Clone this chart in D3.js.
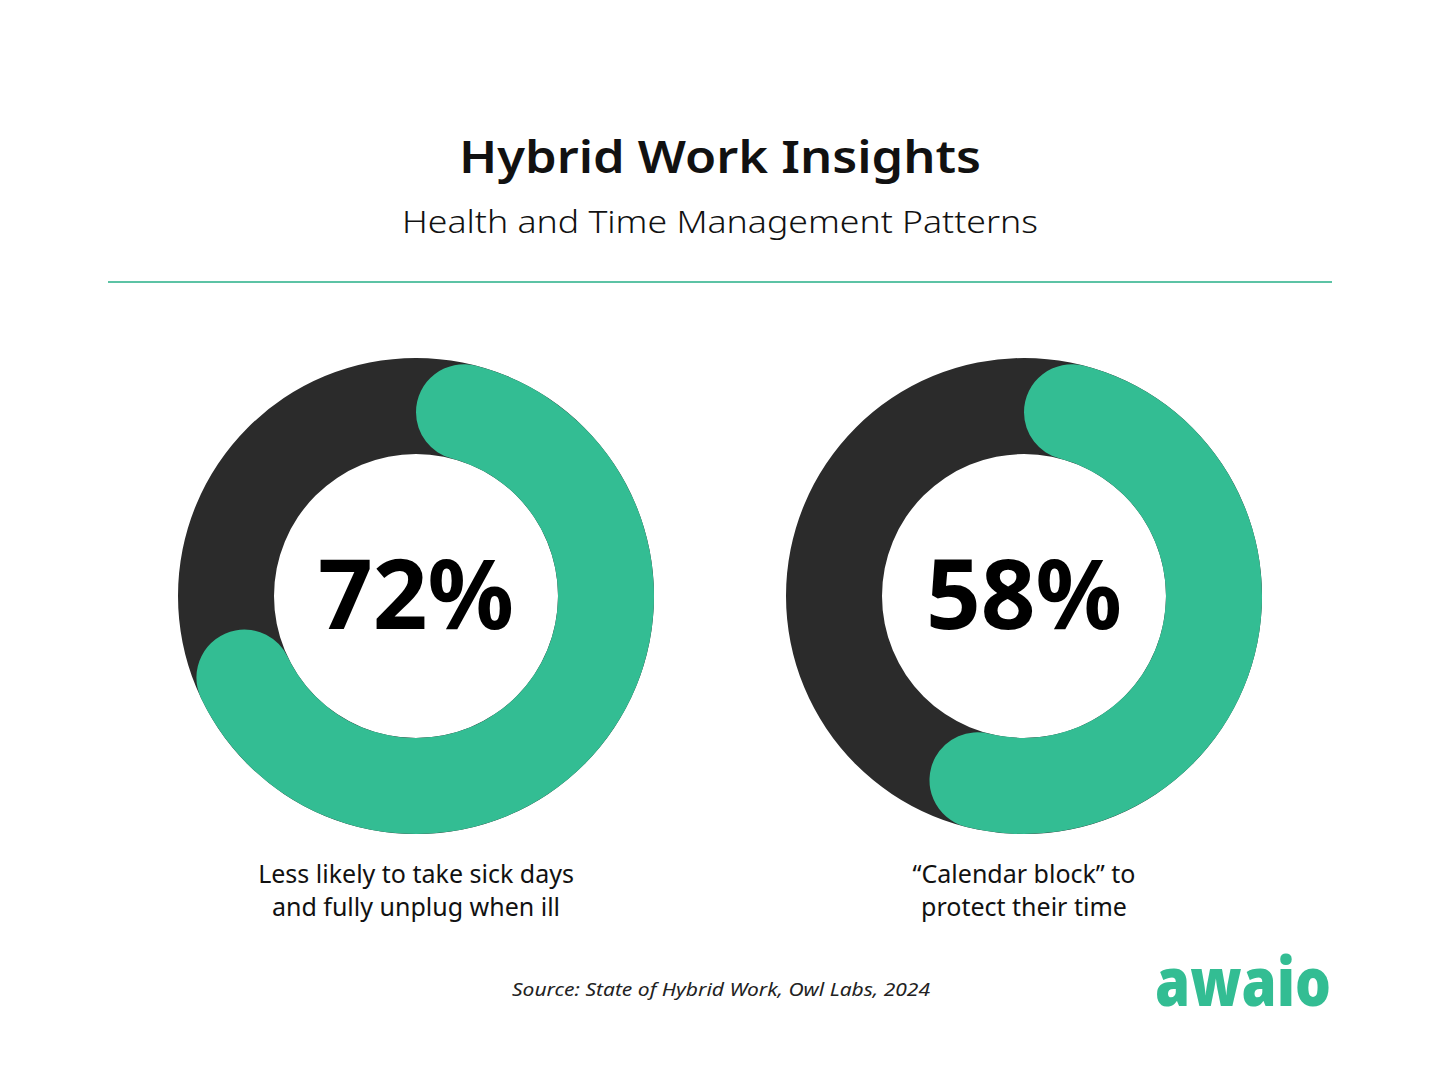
<!DOCTYPE html>
<html>
<head>
<meta charset="utf-8">
<script src="https://cdn.jsdelivr.net/npm/d3@7"></script>
<style>
  html, body { margin: 0; padding: 0; background: #ffffff; }
  svg { display: block; }
  text { font-family: "Noto Sans", "Open Sans", sans-serif; }
</style>
</head>
<body>
<svg id="chart" width="1440" height="1080"></svg>
<script>
// ---- data ----
const categories = ["Less likely to take sick days\nand fully unplug when ill", "\u201cCalendar block\u201d to\nprotect their time"];
const values = [72, 58];
const valueLabels = ["72%", "58%"];
const title = "Hybrid Work Insights";
const subtitle = "Health and Time Management Patterns";
const source = "Source: State of Hybrid Work, Owl Labs, 2024";
const brand = "awaio";

// ---- layout ----
const W = 1440, H = 1080;
const green = "#33bd93", dark = "#2b2b2b", rule = "#5cc3a5";
const svg = d3.select("#chart");
svg.append("rect").attr("width", W).attr("height", H).attr("fill", "#fff");

svg.append("text").text(title)
  .attr("x", 720).attr("y", 173).attr("text-anchor", "middle")
  .attr("font-size", 45).attr("font-weight", 600).attr("fill", "#111")
  .attr("textLength", 522).attr("lengthAdjust", "spacingAndGlyphs");

svg.append("text").text(subtitle)
  .attr("x", 720).attr("y", 233).attr("text-anchor", "middle")
  .attr("font-size", 31).attr("font-weight", 300).attr("fill", "#111")
  .attr("textLength", 636).attr("lengthAdjust", "spacingAndGlyphs");

svg.append("line").attr("x1", 108).attr("x2", 1332).attr("y1", 282).attr("y2", 282)
  .attr("stroke", rule).attr("stroke-width", 2);

const x = d3.scalePoint().domain(categories).range([416, 1024]);
const cy = 596;
const outerR = 238, innerR = 142;
const angle = d3.scaleLinear().domain([0, 100]).range([0, 2 * Math.PI]);

const ringArc = d3.arc().innerRadius(innerR).outerRadius(outerR);
const valArc = d3.arc().innerRadius(innerR).outerRadius(outerR).cornerRadius((outerR - innerR) / 2);

const g = svg.selectAll("g.donut").data(categories.map((c, i) => ({ c, v: values[i], lab: valueLabels[i] })))
  .join("g").attr("class", "donut")
  .attr("transform", d => `translate(${x(d.c)},${cy})`);

g.append("path").attr("d", ringArc({ startAngle: 0, endAngle: 2 * Math.PI })).attr("fill", dark);
g.append("path").attr("d", d => valArc({ startAngle: 0, endAngle: angle(d.v) })).attr("fill", green);

g.append("text").text(d => d.lab)
  .attr("x", 0).attr("y", 33).attr("text-anchor", "middle")
  .attr("font-size", 96).attr("font-weight", 700).attr("fill", "#000")
  .attr("textLength", 196).attr("lengthAdjust", "spacingAndGlyphs");

g.each(function (d) {
  const lines = d.c.split("\n");
  const t = d3.select(this).append("text")
    .attr("text-anchor", "middle").attr("font-size", 25).attr("fill", "#111");
  lines.forEach((ln, i) => {
    t.append("tspan").attr("x", 0).attr("y", 287 + i * 33).text(ln);
  });
});

svg.append("text").text(source)
  .attr("x", 721).attr("y", 996).attr("text-anchor", "middle")
  .attr("font-size", 18.5).attr("font-style", "italic").attr("fill", "#222")
  .attr("textLength", 418).attr("lengthAdjust", "spacingAndGlyphs");

svg.append("text").text(brand)
  .attr("x", 1243).attr("y", 1006).attr("text-anchor", "middle")
  .attr("font-family", "Lato, 'Noto Sans', sans-serif")
  .attr("font-size", 68).attr("font-weight", 900).attr("fill", green)
  .attr("textLength", 176).attr("lengthAdjust", "spacingAndGlyphs");
</script>
</body>
</html>
